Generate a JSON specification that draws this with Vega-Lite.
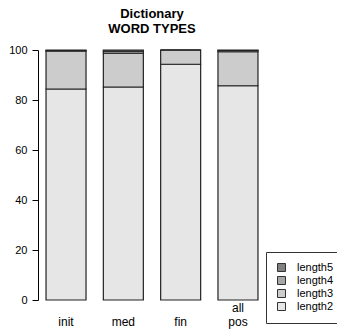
{
  "$schema": "https://vega.github.io/schema/vega-lite/v6.json",
  "autosize": {"type": "none"},
  "width": 228,
  "height": 250,
  "padding": {"left": 38, "top": 50, "right": 71, "bottom": 31},
  "background": "white",
  "config": {
    "font": "Liberation Sans",
    "view": {"stroke": null}
  },
  "title": {
    "text": ["Dictionary", "WORD TYPES"],
    "fontSize": 13,
    "fontWeight": "bold",
    "color": "#000000",
    "anchor": "middle",
    "lineHeight": 15,
    "offset": 8
  },
  "data": {
    "values": [
      {"pos": "init", "type": "length2", "value": 84.4},
      {"pos": "init", "type": "length3", "value": 15.2},
      {"pos": "init", "type": "length4", "value": 0.1},
      {"pos": "init", "type": "length5", "value": 0.3},
      {"pos": "med", "type": "length2", "value": 85.2},
      {"pos": "med", "type": "length3", "value": 13.5},
      {"pos": "med", "type": "length4", "value": 0.8},
      {"pos": "med", "type": "length5", "value": 0.5},
      {"pos": "fin", "type": "length2", "value": 94.3},
      {"pos": "fin", "type": "length3", "value": 5.7},
      {"pos": "fin", "type": "length4", "value": 0.0},
      {"pos": "fin", "type": "length5", "value": 0.0},
      {"pos": "all pos", "type": "length2", "value": 85.7},
      {"pos": "all pos", "type": "length3", "value": 13.6},
      {"pos": "all pos", "type": "length4", "value": 0.5},
      {"pos": "all pos", "type": "length5", "value": 0.2}
    ]
  },
  "mark": {"type": "bar", "stroke": "#222222", "strokeWidth": 1.2},
  "encoding": {
    "x": {
      "field": "pos",
      "type": "nominal",
      "sort": ["init", "med", "fin", "all pos"],
      "scale": {"paddingInner": 0.302, "paddingOuter": 0.14},
      "axis": {
        "title": null,
        "domain": false,
        "ticks": false,
        "labelAngle": 0,
        "labelExpr": "datum.label == 'all pos' ? ['all', 'pos'] : ['', datum.label]",
        "labelBaseline": "top",
        "labelPadding": 2,
        "labelLineHeight": 14,
        "labelFontSize": 12,
        "labelColor": "#000000"
      }
    },
    "y": {
      "field": "value",
      "type": "quantitative",
      "stack": "zero",
      "scale": {"domain": [0, 100], "nice": false},
      "axis": {
        "title": null,
        "grid": false,
        "values": [0, 20, 40, 60, 80, 100],
        "domainColor": "#000000",
        "tickColor": "#000000",
        "tickSize": 6,
        "labelPadding": 5,
        "labelFontSize": 11,
        "labelColor": "#000000"
      }
    },
    "color": {
      "field": "type",
      "type": "nominal",
      "scale": {
        "domain": ["length5", "length4", "length3", "length2"],
        "range": ["#808080", "#A6A6A6", "#CCCCCC", "#E6E6E6"]
      },
      "legend": {
        "title": null,
        "orient": "none",
        "legendX": 228,
        "legendY": 202,
        "padding": 10,
        "strokeColor": "#333333",
        "symbolType": "square",
        "symbolSize": 64,
        "symbolStrokeColor": "#333333",
        "symbolStrokeWidth": 1,
        "symbolOpacity": 1,
        "labelFontSize": 11,
        "labelColor": "#000000",
        "labelOffset": 10,
        "rowPadding": 0
      }
    },
    "order": {"field": "type", "sort": "ascending"}
  }
}
